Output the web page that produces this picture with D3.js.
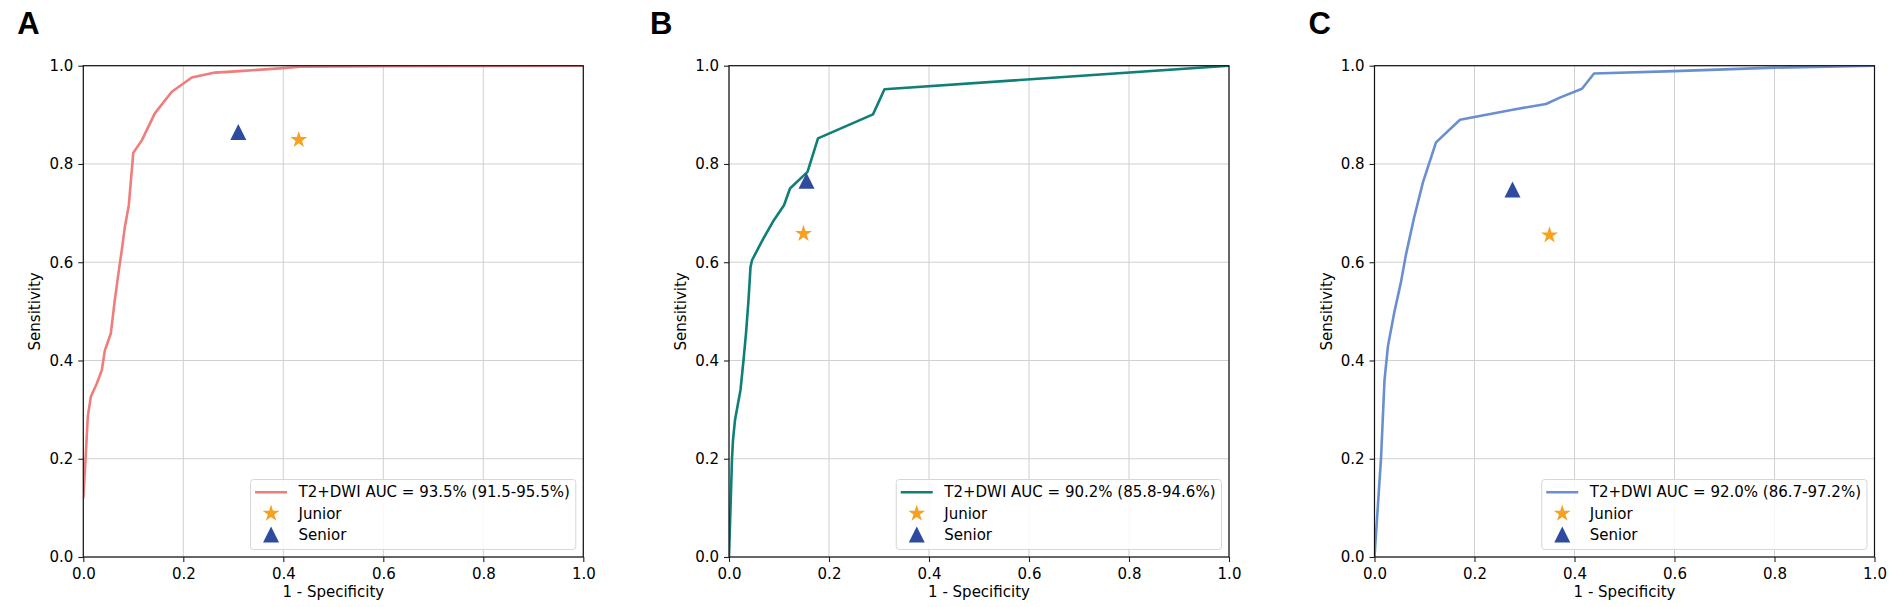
<!DOCTYPE html>
<html>
<head>
<meta charset="utf-8">
<script src="https://cdn.jsdelivr.net/npm/d3@7"></script>
<style>
  html, body { margin: 0; padding: 0; background: #fff; }
  svg { display: block; }
  text { font-family: "DejaVu Sans", sans-serif; fill: #000; }
</style>
</head>
<body>
<svg id="chart" width="1890" height="607"></svg>
<script>
// ---------------- data ----------------
const panelLetters = ["A", "B", "C"];
const xTicks = [0, 0.2, 0.4, 0.6, 0.8, 1.0];
const yTicks = [0, 0.2, 0.4, 0.6, 0.8, 1.0];
const tickLabels = ["0.0", "0.2", "0.4", "0.6", "0.8", "1.0"];
const xAxisTitle = "1 - Specificity";
const yAxisTitle = "Sensitivity";

const rocA_fpr = [0, 0.004, 0.009, 0.015, 0.027, 0.037, 0.043, 0.055, 0.063, 0.072, 0.077, 0.083, 0.091, 0.100, 0.117, 0.143, 0.177, 0.217, 0.263, 0.313, 0.400, 0.433, 0.600, 1.000];
const rocA_tpr = [0.119, 0.190, 0.286, 0.326, 0.353, 0.380, 0.420, 0.455, 0.523, 0.590, 0.625, 0.671, 0.716, 0.823, 0.848, 0.903, 0.947, 0.976, 0.986, 0.989, 0.995, 0.998, 0.999, 1.000];

const rocB_fpr = [0, 0.006, 0.008, 0.012, 0.023, 0.029, 0.034, 0.039, 0.043, 0.046, 0.067, 0.090, 0.110, 0.122, 0.157, 0.178, 0.288, 0.311, 1.000];
const rocB_tpr = [0, 0.200, 0.238, 0.279, 0.340, 0.400, 0.455, 0.523, 0.590, 0.604, 0.645, 0.686, 0.716, 0.750, 0.784, 0.852, 0.901, 0.952, 1.000];

const rocC_fpr = [0, 0.013, 0.020, 0.024, 0.027, 0.040, 0.053, 0.063, 0.079, 0.097, 0.123, 0.171, 0.279, 0.343, 0.373, 0.415, 0.439, 0.600, 0.800, 1.000];
const rocC_tpr = [0, 0.200, 0.360, 0.400, 0.430, 0.500, 0.560, 0.616, 0.690, 0.763, 0.844, 0.890, 0.911, 0.922, 0.936, 0.953, 0.984, 0.989, 0.996, 1.000];

const curveLabels = [
  "T2+DWI AUC = 93.5% (91.5-95.5%)",
  "T2+DWI AUC = 90.2% (85.8-94.6%)",
  "T2+DWI AUC = 92.0% (86.7-97.2%)"
];
const curveColors = ["#ef7d7b", "#0f7f78", "#6a8fd0"];

const juniorFpr = [0.431, 0.149, 0.350];
const juniorTpr = [0.849, 0.658, 0.655];
const seniorFpr = [0.310, 0.155, 0.276];
const seniorTpr = [0.865, 0.766, 0.748];
const readerLabels = ["Junior", "Senior"];
const juniorColor = "#f7a21f";
const seniorColor = "#2f4b9f";

// ---------------- layout ----------------
const svg = d3.select("#chart");
const axLefts = [83.3, 729, 1374.5];
const axTop = 65.7, axW = 500, axH = 491.3;
const fontSize = 15;

// matplotlib-like marker symbols (size = width in px)
const starType = {
  draw(ctx, size) {
    const R = size / 1.902, r = R * 0.381966;
    for (let i = 0; i < 10; i++) {
      const rad = i % 2 === 0 ? R : r;
      const a = -Math.PI / 2 + i * Math.PI / 5;
      const px = rad * Math.cos(a), py = rad * Math.sin(a);
      if (i === 0) ctx.moveTo(px, py); else ctx.lineTo(px, py);
    }
    ctx.closePath();
  }
};
const triType = {
  draw(ctx, size) {
    const h = size / 2;
    ctx.moveTo(0, -h); ctx.lineTo(-h, h); ctx.lineTo(h, h); ctx.closePath();
  }
};
const starPath = d3.symbol().type(starType).size(17)();
const triPath = d3.symbol().type(triType).size(16)();

const rocs = [
  [rocA_fpr, rocA_tpr],
  [rocB_fpr, rocB_tpr],
  [rocC_fpr, rocC_tpr]
];

panelLetters.forEach((letter, i) => {
  const left = axLefts[i];
  const x = d3.scaleLinear().domain([0, 1]).range([left, left + axW]);
  const y = d3.scaleLinear().domain([0, 1]).range([axTop + axH, axTop]);
  const g = svg.append("g");

  // panel letter
  svg.append("text")
    .attr("x", left - (i === 0 ? 66 : i === 1 ? 79 : 66))
    .attr("y", 34)
    .style("font-family", "'Liberation Sans', Arial, sans-serif")
    .style("font-weight", "bold")
    .style("font-size", "31px")
    .text(letter);

  // clip
  const clipId = "clip" + i;
  svg.append("clipPath").attr("id", clipId)
    .append("rect").attr("x", left).attr("y", axTop).attr("width", axW).attr("height", axH);

  // grid
  g.append("g").selectAll("line").data(xTicks).join("line")
    .attr("x1", d => x(d)).attr("x2", d => x(d))
    .attr("y1", axTop).attr("y2", axTop + axH)
    .attr("stroke", "#d0d0d0").attr("stroke-width", 1);
  g.append("g").selectAll("line").data(yTicks).join("line")
    .attr("y1", d => y(d)).attr("y2", d => y(d))
    .attr("x1", left).attr("x2", left + axW)
    .attr("stroke", "#d0d0d0").attr("stroke-width", 1);

  // axes (ticks + labels)
  const xAxis = d3.axisBottom(x).tickValues(xTicks).tickFormat((d, k) => tickLabels[k])
    .tickSize(5).tickPadding(6);
  const yAxis = d3.axisLeft(y).tickValues(yTicks).tickFormat((d, k) => tickLabels[k])
    .tickSize(5).tickPadding(5);
  const gx = g.append("g").attr("transform", `translate(0,${axTop + axH})`).call(xAxis);
  const gy = g.append("g").attr("transform", `translate(${left},0)`).call(yAxis);
  [gx, gy].forEach(ax => {
    ax.select(".domain").remove();
    ax.selectAll(".tick line").attr("stroke", "#222").attr("stroke-width", 1.1);
    ax.selectAll(".tick text").style("font-family", "'DejaVu Sans', sans-serif")
      .style("font-size", fontSize + "px").attr("fill", "#111");
  });

  // axis titles
  g.append("text")
    .attr("x", left + axW / 2).attr("y", axTop + axH + 40)
    .attr("text-anchor", "middle").style("font-size", fontSize + "px")
    .text(xAxisTitle);
  g.append("text")
    .attr("transform", `translate(${left - 43},${axTop + axH / 2}) rotate(-90)`)
    .attr("text-anchor", "middle").style("font-size", fontSize + "px")
    .text(yAxisTitle);

  // ROC curve
  const [fpr, tpr] = rocs[i];
  const pts = fpr.map((f, k) => [f, tpr[k]]);
  const line = d3.line().x(d => x(d[0])).y(d => y(d[1]));
  g.append("path").datum(pts)
    .attr("d", line)
    .attr("fill", "none")
    .attr("stroke", curveColors[i])
    .attr("stroke-width", 2.6)
    .attr("stroke-linejoin", "round")
    .attr("clip-path", `url(#${clipId})`);

  // reader points
  g.append("path").attr("d", starPath)
    .attr("transform", `translate(${x(juniorFpr[i])},${y(juniorTpr[i])})`)
    .attr("fill", juniorColor);
  g.append("path").attr("d", triPath)
    .attr("transform", `translate(${x(seniorFpr[i])},${y(seniorTpr[i])})`)
    .attr("fill", seniorColor);

  // spines
  g.append("rect")
    .attr("x", left).attr("y", axTop).attr("width", axW).attr("height", axH)
    .attr("fill", "none").attr("stroke", "#111").attr("stroke-width", 1.2);

  // legend
  const lg = g.append("g");
  const box = lg.append("rect");
  const t1 = lg.append("text").style("font-size", fontSize + "px")
    .attr("dominant-baseline", "central").text(curveLabels[i]);
  const textW = t1.node().getComputedTextLength();
  const boxW = 48 + textW + 6;
  const boxH = 70;
  const bx = left + axW - 7.5 - boxW;
  const by = axTop + axH - 7.5 - boxH;
  box.attr("x", bx).attr("y", by).attr("width", boxW).attr("height", boxH)
    .attr("rx", 3).attr("fill", "#fff").attr("fill-opacity", 0.85)
    .attr("stroke", "#d6d6d6").attr("stroke-width", 1);
  const rows = [by + 12.7, by + 34, by + 55];
  t1.attr("x", bx + 48).attr("y", rows[0]);
  lg.append("line")
    .attr("x1", bx + 4.5).attr("x2", bx + 36.5)
    .attr("y1", rows[0]).attr("y2", rows[0])
    .attr("stroke", curveColors[i]).attr("stroke-width", 2.6);
  lg.append("path").attr("d", starPath)
    .attr("transform", `translate(${bx + 20.5},${rows[1]})`).attr("fill", juniorColor);
  lg.append("path").attr("d", triPath)
    .attr("transform", `translate(${bx + 20.5},${rows[2]})`).attr("fill", seniorColor);
  lg.append("text").attr("x", bx + 48).attr("y", rows[1])
    .attr("dominant-baseline", "central").style("font-size", fontSize + "px").text(readerLabels[0]);
  lg.append("text").attr("x", bx + 48).attr("y", rows[2])
    .attr("dominant-baseline", "central").style("font-size", fontSize + "px").text(readerLabels[1]);
});
</script>
</body>
</html>
